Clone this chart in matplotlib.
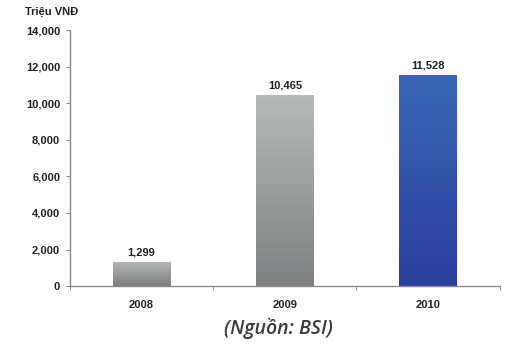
import numpy as np
import matplotlib.pyplot as plt
from matplotlib.patches import Rectangle
from matplotlib.colors import LinearSegmentedColormap

years = ["2008", "2009", "2010"]
values = [1299, 10465, 11528]
yticks = [0, 2000, 4000, 6000, 8000, 10000, 12000, 14000]
# top / bottom colours of each bar's vertical gradient
grad_top = ["#b4b5b5", "#b8b9b9", "#3b66b6"]
grad_bottom = ["#7c7d7e", "#7f8081", "#2a3e9b"]

plt.rcParams['font.family'] = ['Liberation Sans', 'DejaVu Sans']

fig = plt.figure(figsize=(5.10, 3.46), dpi=100)
ax = fig.add_axes([0.137, 0.173, 0.843, 0.740])

x = np.arange(len(years))
width = 0.40
for xi, v, ct, cb in zip(x, values, grad_top, grad_bottom):
    cmap = LinearSegmentedColormap.from_list("g", [cb, ct])
    grad = np.linspace(0, 1, 256).reshape(-1, 1)
    left = xi - width / 2
    im = ax.imshow(grad, cmap=cmap, aspect="auto", origin="lower",
                   extent=[left, left + width, 0, v], zorder=2)
    rect = Rectangle((left, 0), width, v, transform=ax.transData,
                     facecolor="none", edgecolor="none")
    ax.add_patch(rect)
    im.set_clip_path(rect)
    ax.text(xi, v + 250, f"{v:,}", ha="center", va="bottom",
            fontsize=8, fontweight="bold", color="#222222")

ax.set_xlim(-0.5, len(years) - 0.5)
ax.set_ylim(0, 14000)
ax.set_yticks(yticks)
ax.set_yticklabels([f"{t:,}" for t in yticks], fontsize=8,
                   fontweight="bold", color="#222222")
ax.set_xticks(x)
ax.set_xticklabels(years, fontsize=8, fontweight="bold", color="#222222")
ax.set_xticks(np.arange(-0.5, len(years)), minor=True)
ax.tick_params(axis="x", which="major", length=0, pad=10)
ax.tick_params(axis="x", which="minor", length=3, color="#888888", direction="out")
ax.tick_params(axis="y", length=3, color="#888888", pad=4)

for s in ["top", "right"]:
    ax.spines[s].set_visible(False)
for s in ["left", "bottom"]:
    ax.spines[s].set_color("#8a8a8a")
    ax.spines[s].set_linewidth(1.0)

fig.text(0.049, 0.965, "Triệu VNĐ", fontsize=8, fontweight="bold",
         color="#222222", ha="left", va="center")
fig.text(0.545, 0.050, "(Nguồn: BSI)", fontsize=14, style="italic",
         fontweight="semibold", family=["Open Sans", "DejaVu Sans"],
         color="#3c3c3c", ha="center", va="center")

fig.savefig("out.png", dpi=100)
